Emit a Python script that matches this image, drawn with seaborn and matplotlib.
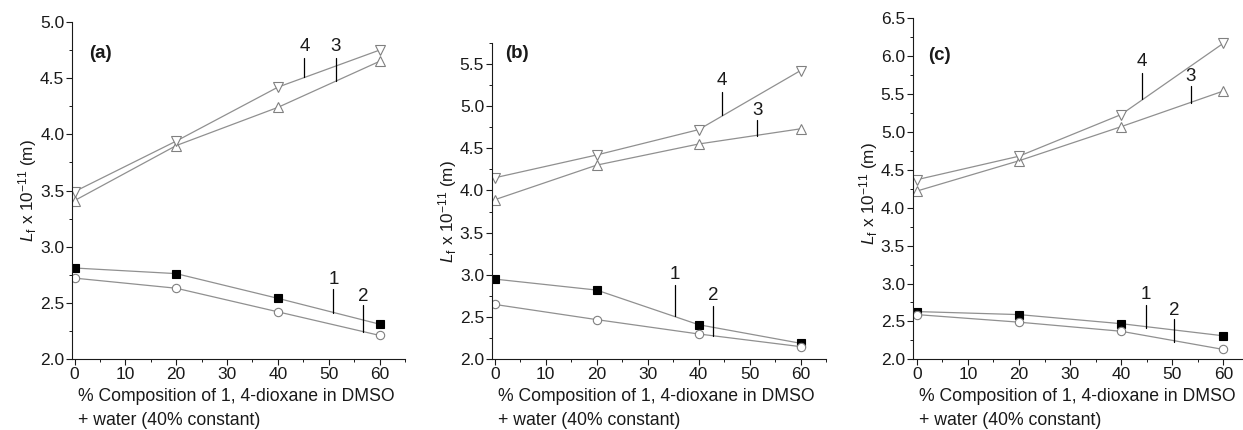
import matplotlib
matplotlib.use("Agg")
import matplotlib.pyplot as plt
from matplotlib.ticker import MultipleLocator, FormatStrFormatter
import seaborn as sns
import pandas as pd

sns.set_style("ticks")
plt.rcParams['font.family'] = ['Liberation Sans', 'DejaVu Sans']
plt.rcParams['mathtext.fontset'] = 'custom'
plt.rcParams['mathtext.it'] = 'Liberation Sans:italic'
plt.rcParams['mathtext.rm'] = 'Liberation Sans'

# ---- data ----
composition = [0, 20, 40, 60]
panels = ["(a)", "(b)", "(c)"]

a_s1 = [2.81, 2.76, 2.54, 2.31]
a_s2 = [2.72, 2.63, 2.42, 2.21]
a_s3 = [3.41, 3.90, 4.24, 4.65]
a_s4 = [3.49, 3.94, 4.42, 4.75]

b_s1 = [2.95, 2.82, 2.41, 2.19]
b_s2 = [2.65, 2.47, 2.30, 2.15]
b_s3 = [3.89, 4.30, 4.55, 4.73]
b_s4 = [4.15, 4.42, 4.72, 5.42]

c_s1 = [2.63, 2.59, 2.47, 2.31]
c_s2 = [2.59, 2.49, 2.37, 2.13]
c_s3 = [4.22, 4.62, 5.07, 5.54]
c_s4 = [4.37, 4.68, 5.23, 6.17]

series_names = ["1", "2", "3", "4"]
x_ticks = [0, 10, 20, 30, 40, 50, 60]

# ---- layout / styles ----
fig = plt.figure(figsize=(12.43, 4.30), dpi=100)
W, H = 1243, 430
boxes = [(72, 22, 405, 359), (491.7, 42.7, 826, 359.3), (912.7, 18.3, 1241.7, 359.3)]
ylims = [(2.0, 5.0), (2.0, 5.75), (2.0, 6.5)]
xlims = [(-0.5, 65), (-0.6, 65), (-0.8, 63.6)]
panel_label_pos = [(0.052, 0.908), (0.040, 0.966), (0.047, 0.892)]
ylabel_yfrac = [0.5, 0.465, 0.485]
# annotation leader lines: (label, x, y_low, y_high, y_text)
annots = [
    [("4", 45.2, 4.51, 4.68, 4.78), ("3", 51.4, 4.475, 4.68, 4.78),
     ("1", 50.9, 2.41, 2.62, 2.71), ("2", 56.8, 2.24, 2.48, 2.56)],
    [("4", 44.5, 4.89, 5.165, 5.30), ("3", 51.5, 4.65, 4.84, 4.95),
     ("1", 35.4, 2.51, 2.88, 3.00), ("2", 42.9, 2.28, 2.63, 2.75)],
    [("4", 44.1, 5.43, 5.78, 5.93), ("3", 53.6, 5.38, 5.61, 5.73),
     ("1", 44.9, 2.41, 2.72, 2.85), ("2", 50.4, 2.23, 2.53, 2.65)],
]
edge = "#808080"
marker_styles = {
    "1": dict(marker="s", markerfacecolor="black", markeredgecolor="black", markersize=5.5),
    "2": dict(marker="o", markerfacecolor="white", markeredgecolor=edge, markersize=6),
    "3": dict(marker="^", markerfacecolor="white", markeredgecolor=edge, markersize=6.5),
    "4": dict(marker="v", markerfacecolor="white", markeredgecolor=edge, markersize=6.5),
}
all_data = [[a_s1, a_s2, a_s3, a_s4], [b_s1, b_s2, b_s3, b_s4], [c_s1, c_s2, c_s3, c_s4]]
txt_col = "#1a1a1a"

for i in range(3):
    l, t, r, b = boxes[i]
    wpx, hpx = r - l, b - t
    ax = fig.add_axes([l / W, 1 - b / H, wpx / W, hpx / H])
    for name, vals in zip(series_names, all_data[i]):
        df = pd.DataFrame({"x": composition, "y": vals})
        sns.lineplot(data=df, x="x", y="y", ax=ax, color="#909090", linewidth=0.9,
                     markeredgewidth=0.8, **marker_styles[name])
    for lab, xa, y0, y1, yt in annots[i]:
        ax.plot([xa, xa], [y0, y1], color="black", linewidth=0.9)
        ax.text(xa, yt, lab, ha="center", va="center", fontsize=13.5, color=txt_col)
    ax.text(*panel_label_pos[i], panels[i], transform=ax.transAxes, fontsize=13.5,
            fontweight="bold", ha="left", va="center", color=txt_col)
    ax.set_xlim(*xlims[i])
    ax.set_ylim(*ylims[i])
    ax.set_xticks(x_ticks)
    ax.xaxis.set_minor_locator(MultipleLocator(5))
    ax.yaxis.set_major_locator(MultipleLocator(0.5))
    ax.yaxis.set_minor_locator(MultipleLocator(0.25))
    ax.yaxis.set_major_formatter(FormatStrFormatter("%.1f"))
    ax.tick_params(which="major", direction="out", length=4, width=0.8, labelsize=12.5,
                   pad=1.5, colors=txt_col, labelcolor=txt_col)
    ax.tick_params(which="minor", direction="out", length=2.5, width=0.7, colors=txt_col)
    sns.despine(ax=ax)
    for s in ("left", "bottom"):
        ax.spines[s].set_linewidth(0.8)
        ax.spines[s].set_color(txt_col)
    ax.set_xlabel("% Composition of 1, 4-dioxane in DMSO\n+ water (40% constant)",
                  fontsize=12.7, ha="left", va="top", color=txt_col, linespacing=1.55)
    ax.xaxis.set_label_coords(6 / wpx, -29 / hpx)
    ax.set_ylabel(r"$L_{\mathrm{f}}$ x 10$^{-11}$ (m)", fontsize=12.3, color=txt_col,
                  va="center")
    ax.yaxis.set_label_coords(-44 / wpx, ylabel_yfrac[i])

fig.savefig("out.png", dpi=100)
